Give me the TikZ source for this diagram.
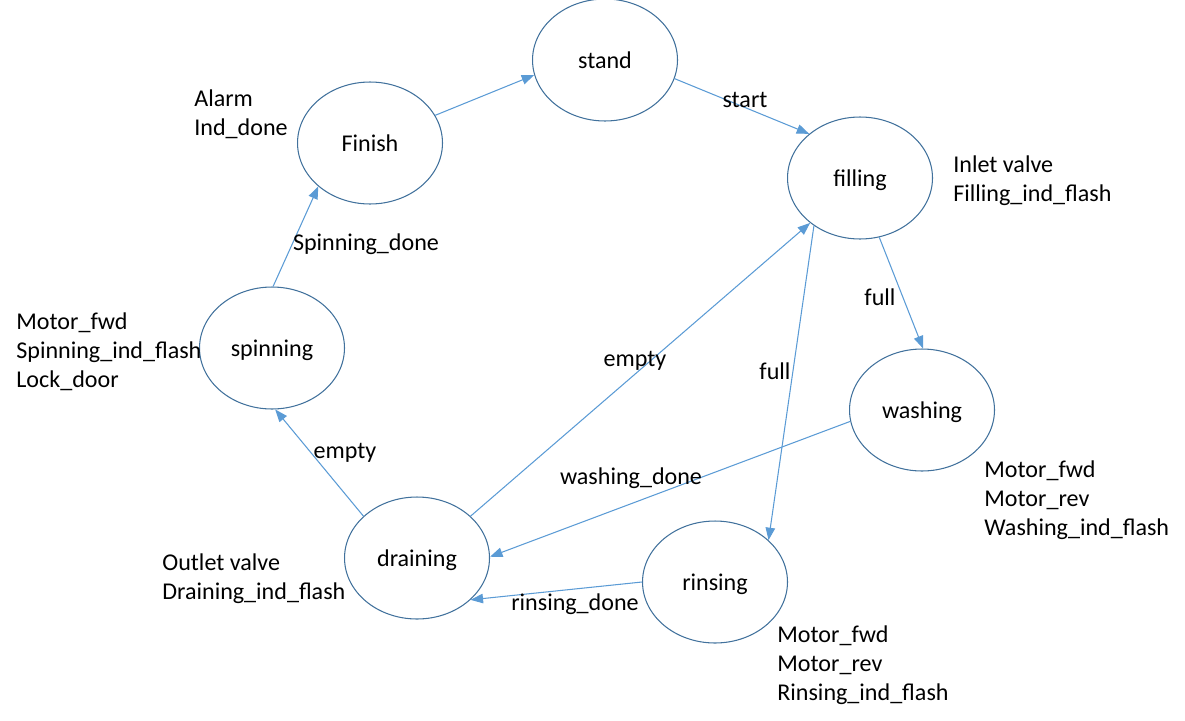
\documentclass[tikz,border=0pt]{standalone}
\usepackage{fontspec}
\setmainfont{Carlito}
\usepackage{tikz}
\usetikzlibrary{arrows.meta, positioning, shapes.geometric}

\definecolor{stateline}{HTML}{41719C}
\definecolor{arrowline}{HTML}{5B9BD5}

\begin{document}
\begin{tikzpicture}[
      x=0.02cm, y=-0.02cm,
      state/.style={draw=stateline, line width=0.6pt, ellipse, minimum width=2.9cm, minimum height=2.44cm, inner sep=0pt, text height=1.16em, text depth=0.2em, font=\fontsize{13.7}{16.5}\selectfont},
      outputs/.style={anchor=west, align=left, inner sep=0pt, yshift=-0.04cm, font=\fontsize{13.7}{16.5}\selectfont},
      elabel/.style={inner sep=0pt, yshift=-0.03cm, font=\fontsize{13.7}{16.5}\selectfont},
      trans/.style={draw=arrowline, line width=0.6pt, -{Triangle[length=2.5mm, width=1.9mm]}}
    ]
      \useasboundingbox (0,0) rectangle (1185,720);

      % States
      \node[state] (stand) at (605,60) {stand};
      \node[state] (finish) at (370,143) {Finish};
      \node[state] (filling) at (860,178) {filling};
      \node[state] (washing) at (922,410) {washing};
      \node[state] (rinsing) at (715,582) {rinsing};
      \node[state] (draining) at (417,558) {draining};
      \node[state] (spinning) at (272,348) {spinning};

      % Outputs of each state
      \node[outputs] (outfinish) at (194,112) {Alarm\\Ind\_done};
      \node[outputs] (outfilling) at (953,179) {Inlet valve\\Filling\_ind\_flash};
      \node[outputs] (outspinning) at (16,350) {Motor\_fwd\\Spinning\_ind\_flash\\Lock\_door};
      \node[outputs] (outwashing) at (984,498) {Motor\_fwd\\Motor\_rev\\Washing\_ind\_flash};
      \node[outputs] (outdraining) at (162,577) {Outlet valve\\Draining\_ind\_flash};
      \node[outputs] (outrinsing) at (777,663) {Motor\_fwd\\Motor\_rev\\Rinsing\_ind\_flash};

      % Transitions
      \draw[trans] (finish.23) -- (stand.192);
      \draw[trans] (stand.345) -- (filling.139);
      \draw[trans] (filling.288) -- (washing.89);
      \draw[trans] (filling.226) -- (rinsing.38);
      \draw[trans] (draining.38) -- (filling.222);
      \draw[trans] (washing.189) -- (draining.1);
      \draw[trans] (rinsing.180) -- (draining.322);
      \draw[trans] (draining.142) -- (spinning.273);
      \draw[trans] (spinning.89) -- (finish.220);

      % Transition labels
      \node[elabel] (lstart) at (745,98) {start};
      \node[elabel] (lfull) at (880,296) {full};
      \node[elabel] (lfullrinse) at (775,370) {full};
      \node[elabel] (lemptyfill) at (635,359) {empty};
      \node[elabel] (lwashdone) at (631,477) {washing\_done};
      \node[elabel] (lrinsedone) at (575,603) {rinsing\_done};
      \node[elabel] (lemptyspin) at (345,451) {empty};
      \node[elabel] (lspindone) at (366,243) {Spinning\_done};

    \end{tikzpicture}
\end{document}
